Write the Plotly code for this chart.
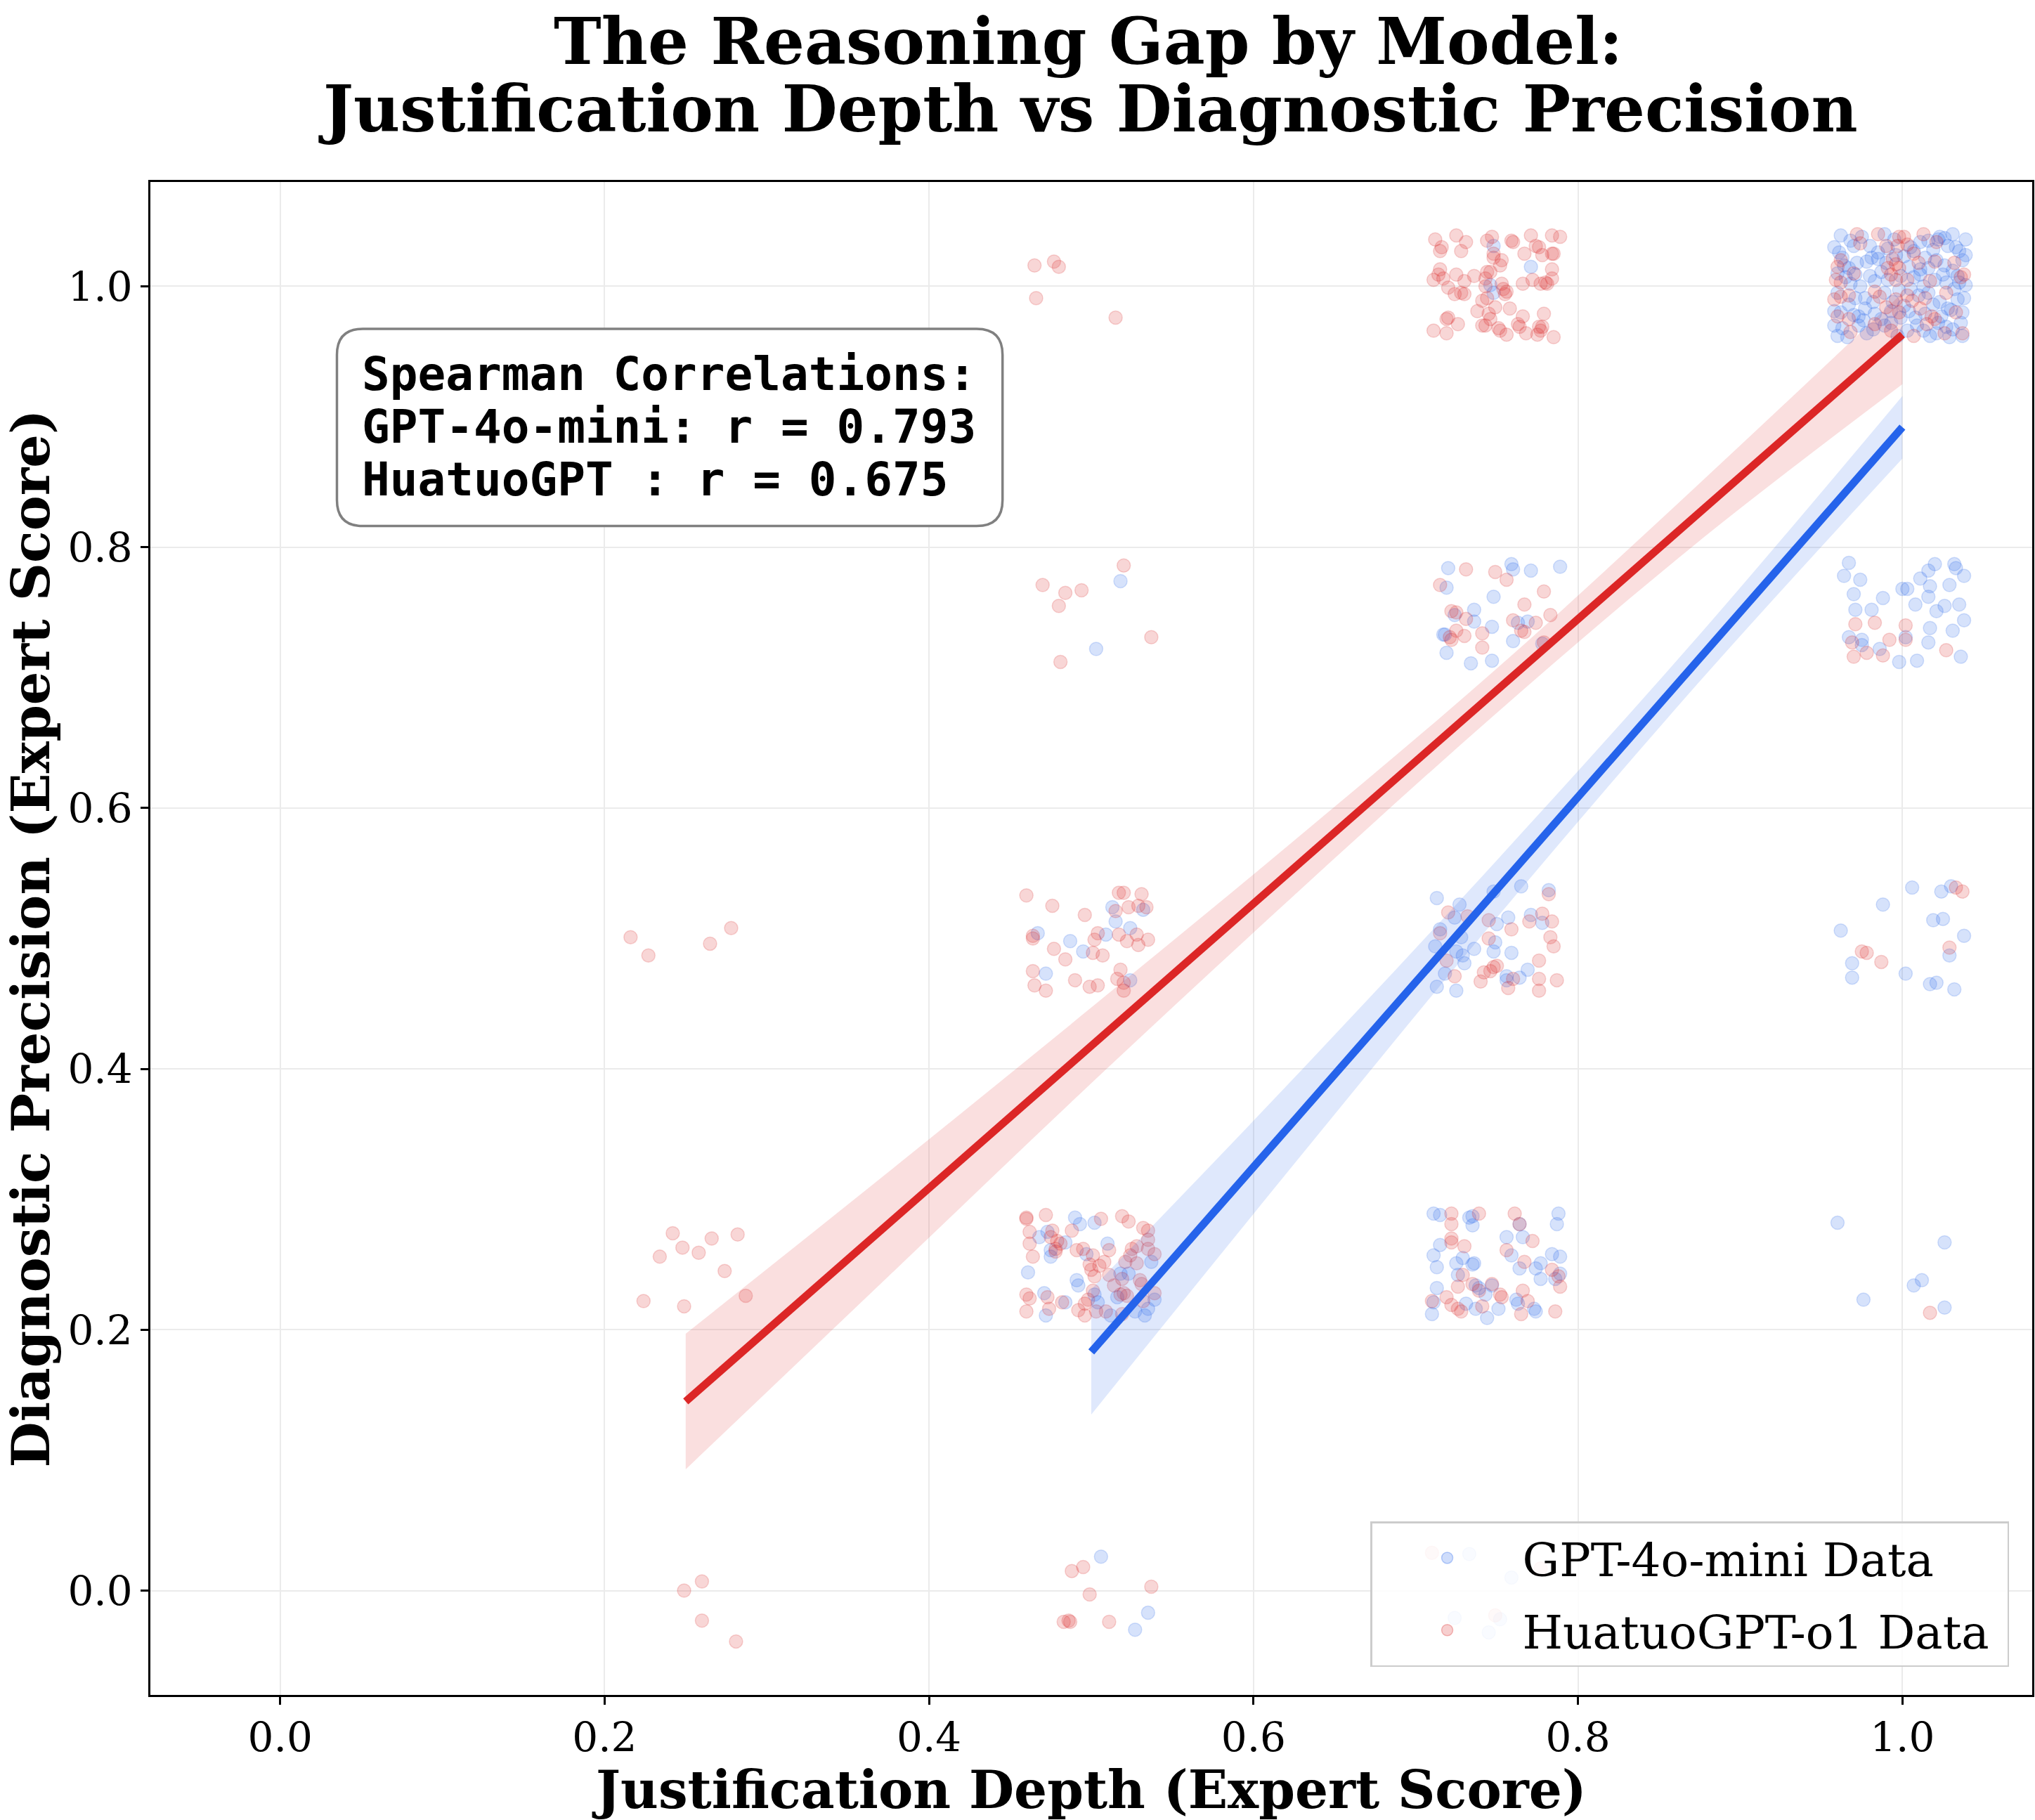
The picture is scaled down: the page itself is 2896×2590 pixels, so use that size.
import plotly.graph_objects as go

# ---------------- data ----------------
gpt_points = [
    # x=0.5 column
    (0.518, 0.774), (0.503, 0.722),
    (0.513, 0.524), (0.532, 0.522), (0.515, 0.513), (0.524, 0.508), (0.467, 0.504), (0.487, 0.498),
    (0.509, 0.503), (0.495, 0.490), (0.472, 0.473), (0.524, 0.468),
    (0.490, 0.286), (0.493, 0.281), (0.502, 0.282), (0.468, 0.271), (0.473, 0.275), (0.484, 0.267),
    (0.475, 0.261), (0.475, 0.256), (0.497, 0.258), (0.510, 0.266), (0.537, 0.252), (0.461, 0.244),
    (0.491, 0.238), (0.492, 0.234), (0.518, 0.243), (0.523, 0.243), (0.471, 0.228), (0.484, 0.221),
    (0.502, 0.227), (0.504, 0.221), (0.516, 0.225), (0.539, 0.223), (0.472, 0.211), (0.512, 0.211),
    (0.527, 0.214), (0.533, 0.211), (0.535, 0.216),
    (0.506, 0.026), (0.535, -0.017), (0.527, -0.030),
    # x=0.75 column
    (0.748, 1.031), (0.746, 1.001), (0.748, 0.995), (0.771, 1.015),
    (0.720, 0.784), (0.759, 0.787), (0.760, 0.783), (0.771, 0.782), (0.789, 0.785), (0.719, 0.769),
    (0.748, 0.762), (0.724, 0.748), (0.736, 0.752), (0.736, 0.743), (0.718, 0.733), (0.717, 0.733),
    (0.747, 0.739), (0.763, 0.742), (0.769, 0.743), (0.760, 0.728), (0.778, 0.726), (0.719, 0.719),
    (0.734, 0.711), (0.747, 0.713),
    (0.713, 0.531), (0.727, 0.526), (0.724, 0.516), (0.765, 0.540), (0.748, 0.536), (0.782, 0.537),
    (0.750, 0.511), (0.757, 0.516), (0.771, 0.518), (0.778, 0.512), (0.715, 0.507), (0.749, 0.497),
    (0.728, 0.501), (0.712, 0.494), (0.725, 0.490), (0.736, 0.492), (0.748, 0.490), (0.759, 0.489),
    (0.729, 0.487), (0.730, 0.481), (0.769, 0.476), (0.718, 0.473), (0.756, 0.471), (0.756, 0.468),
    (0.764, 0.470), (0.713, 0.463), (0.725, 0.460),
    (0.711, 0.289), (0.715, 0.288), (0.733, 0.286), (0.735, 0.287), (0.735, 0.280), (0.764, 0.281),
    (0.788, 0.289), (0.787, 0.281), (0.756, 0.271), (0.766, 0.271), (0.715, 0.265), (0.711, 0.257),
    (0.713, 0.248), (0.725, 0.251), (0.729, 0.255), (0.735, 0.250), (0.736, 0.251), (0.759, 0.257),
    (0.764, 0.247), (0.777, 0.251), (0.774, 0.247), (0.777, 0.239), (0.784, 0.258), (0.789, 0.256),
    (0.786, 0.239), (0.789, 0.243), (0.726, 0.242), (0.737, 0.234), (0.739, 0.232), (0.747, 0.234),
    (0.713, 0.232), (0.743, 0.227), (0.762, 0.223), (0.763, 0.220), (0.773, 0.216), (0.774, 0.214),
    (0.711, 0.221), (0.737, 0.216), (0.744, 0.209), (0.710, 0.212), (0.751, 0.216), (0.731, 0.220),
    (0.733, 0.028), (0.759, 0.010), (0.724, -0.021), (0.745, -0.032), (0.752, -0.022),
    # x=1.0 column
    (0.962, 1.039), (0.989, 1.040), (1.023, 1.038), (1.026, 1.037), (1.039, 1.036),
    (0.961, 1.026), (0.970, 1.031), (0.980, 1.031), (0.991, 1.029), (1.011, 1.034), (1.016, 1.035),
    (1.022, 1.036), (1.028, 1.031), (1.033, 1.030), (1.035, 1.027),
    (0.964, 1.016), (0.967, 1.014), (0.978, 1.019), (0.981, 1.022), (0.985, 1.021), (1.001, 1.023),
    (1.014, 1.022), (1.026, 1.016), (1.037, 1.020), (1.016, 1.014),
    (0.965, 1.007), (0.971, 1.009), (0.974, 1.000), (0.980, 1.008), (0.983, 1.004), (1.007, 1.007),
    (1.011, 1.009), (1.020, 1.005), (1.027, 1.003), (1.035, 1.003),
    (0.971, 0.991), (0.977, 0.991), (0.989, 0.995), (0.998, 0.997), (1.010, 0.993), (1.016, 0.995),
    (1.023, 0.988), (1.032, 0.998), (1.034, 0.990), (1.038, 0.991),
    (0.958, 0.981), (0.962, 0.980), (0.973, 0.977), (0.976, 0.974), (0.983, 0.979), (0.993, 0.981),
    (1.004, 0.981), (1.008, 0.976), (1.024, 0.977), (1.030, 0.982), (1.037, 0.980),
    (0.960, 0.962), (0.963, 0.968), (0.973, 0.970), (0.978, 0.964), (0.989, 0.970), (0.997, 0.962),
    (1.003, 0.966), (1.013, 0.966), (1.021, 0.964), (1.031, 0.967), (1.029, 0.961),
    (0.968, 1.035), (0.975, 1.038), (0.995, 1.036), (1.005, 1.030), (1.031, 1.040), (0.958, 1.030),
    (0.985, 1.026), (0.996, 1.024), (1.007, 1.027), (1.019, 1.028), (1.039, 1.024), (0.960, 1.010),
    (0.972, 1.018), (0.990, 1.018), (1.004, 1.015), (1.021, 1.020), (1.031, 1.012), (0.968, 1.002),
    (0.987, 1.011), (0.999, 1.008), (1.013, 1.000), (1.025, 1.009), (1.039, 1.001), (0.960, 0.995),
    (0.967, 0.986), (0.982, 0.988), (0.994, 0.988), (1.005, 0.998), (1.019, 0.986), (1.028, 0.983),
    (0.970, 0.978), (0.987, 0.975), (0.999, 0.976), (1.014, 0.979), (1.022, 0.972), (1.036, 0.972),
    (0.966, 0.961), (0.982, 0.967), (0.993, 0.972), (1.009, 0.970), (1.017, 0.962), (1.037, 0.962),
    (0.958, 0.970), (0.977, 0.983), (1.001, 0.985), (1.027, 0.969), (0.963, 1.022), (0.991, 1.005),
    (1.011, 1.013), (1.034, 1.008),
    (0.967, 0.788), (0.964, 0.778), (0.974, 0.775), (0.970, 0.764), (0.971, 0.752), (0.981, 0.752),
    (0.988, 0.761), (0.967, 0.731), (0.975, 0.729), (0.975, 0.725), (0.986, 0.722), (0.998, 0.712),
    (1.009, 0.713), (1.000, 0.768), (1.003, 0.768), (1.002, 0.731), (1.008, 0.756), (1.011, 0.776),
    (1.016, 0.782), (1.020, 0.787), (1.032, 0.787), (1.033, 0.784), (1.038, 0.778), (1.029, 0.771),
    (1.017, 0.770), (1.016, 0.762), (1.021, 0.751), (1.026, 0.755), (1.035, 0.756), (1.038, 0.744),
    (1.017, 0.738), (1.031, 0.736), (1.016, 0.727), (1.036, 0.716),
    (1.006, 0.539), (0.988, 0.526), (0.962, 0.506), (0.969, 0.481), (0.969, 0.470), (1.002, 0.473),
    (1.024, 0.536), (1.030, 0.540), (1.019, 0.514), (1.025, 0.515), (1.038, 0.502), (1.029, 0.487),
    (1.017, 0.465), (1.021, 0.466), (1.032, 0.461),
    (0.960, 0.282), (1.026, 0.267), (0.976, 0.223), (1.007, 0.234), (1.012, 0.238), (1.026, 0.217),
]

hua_points = [
    # x=0.25 column
    (0.216, 0.501), (0.227, 0.487), (0.265, 0.496), (0.278, 0.508),
    (0.242, 0.274), (0.234, 0.256), (0.248, 0.263), (0.258, 0.259), (0.266, 0.270), (0.282, 0.273),
    (0.274, 0.245), (0.224, 0.222), (0.249, 0.218), (0.287, 0.226),
    (0.249, 0.000), (0.260, 0.007), (0.260, -0.023), (0.281, -0.039),
    # x=0.5 column
    (0.465, 1.016), (0.477, 1.019), (0.480, 1.015), (0.466, 0.991), (0.515, 0.976),
    (0.520, 0.786), (0.470, 0.771), (0.484, 0.765), (0.494, 0.767), (0.480, 0.755), (0.537, 0.731),
    (0.481, 0.712),
    (0.460, 0.533), (0.476, 0.525), (0.496, 0.518), (0.517, 0.535), (0.520, 0.535), (0.531, 0.534),
    (0.515, 0.521), (0.523, 0.524), (0.529, 0.525), (0.534, 0.524), (0.464, 0.500), (0.464, 0.502),
    (0.504, 0.504), (0.502, 0.499), (0.517, 0.503), (0.522, 0.498), (0.528, 0.503), (0.529, 0.495),
    (0.535, 0.499), (0.477, 0.492), (0.484, 0.484), (0.501, 0.489), (0.507, 0.487), (0.464, 0.475),
    (0.465, 0.464), (0.472, 0.460), (0.490, 0.468), (0.499, 0.463), (0.504, 0.464), (0.518, 0.476),
    (0.516, 0.469), (0.520, 0.466), (0.520, 0.460),
    (0.460, 0.285), (0.460, 0.286), (0.472, 0.288), (0.506, 0.285), (0.519, 0.287), (0.523, 0.283),
    (0.532, 0.278), (0.535, 0.276), (0.462, 0.275), (0.476, 0.276), (0.475, 0.271), (0.479, 0.268),
    (0.481, 0.266), (0.478, 0.262), (0.488, 0.276), (0.462, 0.266), (0.464, 0.256), (0.478, 0.260),
    (0.491, 0.261), (0.495, 0.262), (0.501, 0.257), (0.508, 0.252), (0.511, 0.261), (0.499, 0.250),
    (0.500, 0.246), (0.502, 0.241), (0.505, 0.249), (0.525, 0.262), (0.528, 0.264), (0.524, 0.257),
    (0.528, 0.251), (0.521, 0.252), (0.535, 0.262), (0.539, 0.258), (0.535, 0.269), (0.511, 0.242),
    (0.514, 0.234), (0.519, 0.239), (0.530, 0.238), (0.531, 0.235), (0.460, 0.227), (0.462, 0.224),
    (0.473, 0.225), (0.482, 0.221), (0.498, 0.223), (0.496, 0.220), (0.501, 0.230), (0.518, 0.227),
    (0.520, 0.228), (0.522, 0.226), (0.539, 0.228), (0.460, 0.214), (0.474, 0.216), (0.492, 0.215),
    (0.496, 0.211), (0.503, 0.214), (0.509, 0.214), (0.519, 0.212), (0.532, 0.222),
    (0.488, 0.015), (0.495, 0.018), (0.499, -0.003), (0.537, 0.003), (0.483, -0.024), (0.486, -0.023),
    (0.487, -0.024), (0.511, -0.024),
    # x=0.75 column
    (0.712, 1.036), (0.725, 1.039), (0.731, 1.034), (0.728, 1.027), (0.716, 1.030), (0.715, 1.027),
    (0.744, 1.035), (0.747, 1.038), (0.748, 1.025), (0.748, 1.022), (0.753, 1.020), (0.752, 1.016),
    (0.759, 1.035), (0.760, 1.034), (0.771, 1.039), (0.774, 1.031), (0.776, 1.030), (0.767, 1.025),
    (0.778, 1.024), (0.784, 1.025), (0.785, 1.025), (0.784, 1.039), (0.789, 1.038),
    (0.715, 1.013), (0.711, 1.005), (0.714, 1.009), (0.717, 1.006), (0.720, 0.999), (0.725, 1.009),
    (0.730, 1.004), (0.736, 1.008), (0.724, 0.994), (0.728, 0.995), (0.730, 0.994), (0.744, 1.011),
    (0.743, 1.006), (0.743, 1.000), (0.753, 1.002), (0.754, 0.998), (0.756, 0.996), (0.755, 0.994),
    (0.746, 1.011), (0.766, 1.002), (0.772, 1.005), (0.777, 1.002), (0.781, 1.002), (0.784, 1.013),
    (0.784, 1.006), (0.780, 1.003),
    (0.741, 0.989), (0.744, 0.991), (0.749, 0.984), (0.738, 0.981), (0.745, 0.979), (0.758, 0.983),
    (0.719, 0.975), (0.720, 0.976), (0.726, 0.971), (0.711, 0.966), (0.719, 0.964), (0.741, 0.970),
    (0.743, 0.970), (0.746, 0.975), (0.751, 0.968), (0.752, 0.966), (0.756, 0.963), (0.763, 0.971),
    (0.764, 0.969), (0.766, 0.977), (0.768, 0.964), (0.776, 0.969), (0.778, 0.969), (0.779, 0.979),
    (0.775, 0.963), (0.785, 0.961), (0.777, 0.966),
    (0.731, 0.783), (0.749, 0.781), (0.756, 0.775), (0.715, 0.771), (0.779, 0.766), (0.767, 0.756),
    (0.722, 0.751), (0.725, 0.750), (0.731, 0.745), (0.725, 0.736), (0.722, 0.729), (0.721, 0.731),
    (0.730, 0.732), (0.741, 0.734), (0.760, 0.744), (0.774, 0.742), (0.765, 0.736), (0.767, 0.735),
    (0.783, 0.748), (0.779, 0.727), (0.741, 0.723),
    (0.720, 0.520), (0.732, 0.517), (0.782, 0.534), (0.745, 0.514), (0.778, 0.519), (0.770, 0.513),
    (0.784, 0.513), (0.759, 0.507), (0.715, 0.504), (0.745, 0.500), (0.783, 0.501), (0.785, 0.494),
    (0.719, 0.483), (0.776, 0.483), (0.750, 0.479), (0.748, 0.478), (0.742, 0.474), (0.746, 0.475),
    (0.724, 0.471), (0.740, 0.467), (0.760, 0.469), (0.757, 0.462), (0.776, 0.469), (0.787, 0.468),
    (0.776, 0.460),
    (0.722, 0.289), (0.722, 0.281), (0.739, 0.289), (0.761, 0.289), (0.764, 0.281), (0.772, 0.268),
    (0.722, 0.270), (0.722, 0.267), (0.730, 0.264), (0.756, 0.261), (0.767, 0.252), (0.784, 0.246),
    (0.788, 0.241), (0.789, 0.233), (0.729, 0.242), (0.726, 0.233), (0.735, 0.235), (0.739, 0.230),
    (0.747, 0.235), (0.753, 0.225), (0.752, 0.227), (0.766, 0.230), (0.769, 0.222), (0.765, 0.212),
    (0.786, 0.214), (0.710, 0.222), (0.719, 0.225), (0.722, 0.219), (0.726, 0.216), (0.728, 0.214),
    (0.741, 0.218),
    (0.710, 0.029), (0.777, 0.017), (0.749, -0.019),
    # x=1.0 column
    (0.972, 1.040), (0.985, 1.040), (0.998, 1.038), (1.001, 1.038), (1.013, 1.040),
    (0.974, 1.033), (0.990, 1.031), (0.997, 1.031), (1.003, 1.032), (1.007, 1.025), (1.021, 1.034),
    (0.960, 1.015), (0.962, 1.020), (0.994, 1.021), (0.996, 1.017), (0.991, 1.014), (0.998, 1.014),
    (1.010, 1.018), (1.020, 1.019), (1.032, 1.018),
    (0.959, 1.005), (0.962, 1.003), (0.970, 1.010), (0.993, 1.009), (0.996, 1.005), (1.003, 1.005),
    (1.017, 1.004), (1.036, 1.007), (1.038, 1.009),
    (0.958, 0.990), (0.962, 0.992), (0.967, 0.993), (0.983, 0.996), (0.986, 0.992), (0.996, 0.990),
    (1.003, 0.993), (1.006, 0.989), (1.014, 0.991), (1.027, 0.995),
    (0.960, 0.977), (0.967, 0.975), (0.990, 0.984), (0.998, 0.980), (1.011, 0.983), (1.018, 0.977),
    (1.020, 0.975), (1.033, 0.980),
    (0.968, 0.965), (0.983, 0.971), (0.993, 0.966), (1.007, 0.962), (1.015, 0.971), (1.026, 0.964),
    (1.037, 0.964),
    (0.971, 0.741), (0.983, 0.742), (0.969, 0.727), (0.978, 0.719), (0.970, 0.716), (0.988, 0.717),
    (0.992, 0.729), (1.002, 0.740), (1.002, 0.729), (1.027, 0.721),
    (0.975, 0.490), (0.978, 0.489), (0.987, 0.482), (1.033, 0.539), (1.037, 0.536), (1.029, 0.493),
    (1.017, 0.213),
]

# regression fits and confidence bands
red_fit_x = [0.25, 1.0]
red_fit_y = [0.145, 0.963]
red_band_x = [0.25, 0.375, 0.5, 0.625, 0.75, 0.875, 1.0]
red_band_lo = [0.093, 0.241, 0.389, 0.533, 0.673, 0.805, 0.925]
red_band_hi = [0.197, 0.321, 0.447, 0.575, 0.707, 0.849, 0.995]

blue_fit_x = [0.5, 1.0]
blue_fit_y = [0.183, 0.892]
blue_band_x = [0.5, 0.625, 0.75, 0.875, 1.0]
blue_band_lo = [0.135, 0.327, 0.516, 0.697, 0.868]
blue_band_hi = [0.231, 0.393, 0.560, 0.733, 0.916]

corr_lines = ["Spearman Correlations:", "GPT-4o-mini: r = 0.793", "HuatuoGPT : r = 0.675"]
title_lines = ["The Reasoning Gap by Model:", "Justification Depth vs Diagnostic Precision"]
legend_names = ["GPT-4o-mini Data", "HuatuoGPT-o1 Data"]
tick_vals = [0.0, 0.2, 0.4, 0.6, 0.8, 1.0]

RED = "#dc2626"
BLUE = "#2563eb"
SERIF = "DejaVu Serif"

fig = go.Figure()

gx = [p[0] for p in gpt_points]
gy = [p[1] for p in gpt_points]
hx = [p[0] for p in hua_points]
hy = [p[1] for p in hua_points]

fig.add_trace(go.Scatter(
    x=gx, y=gy, mode="markers", showlegend=False, hoverinfo="skip",
    marker=dict(size=19, color="rgba(37,99,235,0.19)", line=dict(width=1.5, color="rgba(37,99,235,0.19)")),
))
fig.add_trace(go.Scatter(
    x=hx, y=hy, mode="markers", showlegend=False, hoverinfo="skip",
    marker=dict(size=19, color="rgba(220,38,38,0.19)", line=dict(width=1.5, color="rgba(220,38,38,0.19)")),
))

# confidence bands
fig.add_trace(go.Scatter(x=red_band_x, y=red_band_lo, mode="lines", line=dict(width=0, shape="spline"),
                         showlegend=False, hoverinfo="skip"))
fig.add_trace(go.Scatter(x=red_band_x, y=red_band_hi, mode="lines", line=dict(width=0, shape="spline"),
                         fill="tonexty", fillcolor="rgba(220,38,38,0.15)", showlegend=False, hoverinfo="skip"))
fig.add_trace(go.Scatter(x=blue_band_x, y=blue_band_lo, mode="lines", line=dict(width=0, shape="spline"),
                         showlegend=False, hoverinfo="skip"))
fig.add_trace(go.Scatter(x=blue_band_x, y=blue_band_hi, mode="lines", line=dict(width=0, shape="spline"),
                         fill="tonexty", fillcolor="rgba(37,99,235,0.15)", showlegend=False, hoverinfo="skip"))

# fit lines
fig.add_trace(go.Scatter(x=red_fit_x, y=red_fit_y, mode="lines", line=dict(color=RED, width=11),
                         showlegend=False, hoverinfo="skip"))
fig.add_trace(go.Scatter(x=blue_fit_x, y=blue_fit_y, mode="lines", line=dict(color=BLUE, width=11),
                         showlegend=False, hoverinfo="skip"))

# legend-only entries
fig.add_trace(go.Scatter(x=[None], y=[None], mode="markers", name=legend_names[0] + "\u00a0", legendgroup="g",
                         marker=dict(size=19, color="rgba(37,99,235,0.22)", line=dict(width=1.5, color="rgba(37,99,235,0.3)"))))
fig.add_trace(go.Scatter(x=[None], y=[None], mode="markers", name=legend_names[1] + "\u00a0", legendgroup="h",
                         marker=dict(size=19, color="rgba(220,38,38,0.22)", line=dict(width=1.5, color="rgba(220,38,38,0.3)"))))

# rounded box for correlation text (data coordinates)
bx0, bx1, by0, by1 = 0.035, 0.4453, 0.8162, 0.9674
rx, ry = 0.016, 0.02
path = (f"M {bx0+rx},{by1} L {bx1-rx},{by1} Q {bx1},{by1} {bx1},{by1-ry} "
        f"L {bx1},{by0+ry} Q {bx1},{by0} {bx1-rx},{by0} L {bx0+rx},{by0} "
        f"Q {bx0},{by0} {bx0},{by0+ry} L {bx0},{by1-ry} Q {bx0},{by1} {bx0+rx},{by1} Z")
fig.add_shape(type="path", path=path, xref="x", yref="y", fillcolor="white",
              line=dict(color="#808080", width=3.5), layer="above")

for i, txt in enumerate(corr_lines):
    fig.add_annotation(x=0.0494, y=[0.9325, 0.8921, 0.8517][i], xref="x", yref="y",
                       text=f"<b>{txt}</b>", showarrow=False, xanchor="left", yanchor="middle",
                       font=dict(family="DejaVu Sans Mono", size=66, color="black"))

# two-line title
for i, txt in enumerate(title_lines):
    fig.add_annotation(x=0.4985, y=[1.0929, 1.0483][i], xref="paper", yref="paper",
                       text=f"<b>{txt}</b>", showarrow=False, xanchor="center", yanchor="middle",
                       font=dict(family=SERIF, size=91, color="black"))

axis_common = dict(
    range=[-0.08, 1.08], tickvals=tick_vals, ticktext=[f"{v:.1f}" for v in tick_vals],
    showgrid=True, gridcolor="#ebebeb", gridwidth=2, zeroline=False,
    showline=True, linecolor="black", linewidth=2.5, mirror=True,
    ticks="outside", ticklen=11, tickwidth=2.5, tickcolor="black",
    tickfont=dict(family=SERIF, size=58, color="black"), automargin=False,
)

fig.update_layout(
    width=2896, height=2590,
    margin=dict(l=214, r=4, t=259, b=178),
    paper_bgcolor="white", plot_bgcolor="white",
    xaxis=dict(axis_common, ticklabelstandoff=-3,
               title=dict(text="<b>Justification Depth (Expert Score)</b>",
                          font=dict(family=SERIF, size=74, color="black"), standoff=26)),
    yaxis=dict(axis_common, title=dict(text="<b>Diagnostic Precision (Expert Score)</b>",
                                       font=dict(family=SERIF, size=75, color="black"), standoff=14)),
    legend=dict(x=0.9877, y=0.1147, xanchor="right", yanchor="top",
                bgcolor="rgba(255,255,255,0.85)", bordercolor="#cccccc", borderwidth=2.5,
                font=dict(family=SERIF, size=66, color="black"), itemwidth=204,
                tracegroupgap=14, traceorder="grouped"),
)

fig.write_html("out.html")
